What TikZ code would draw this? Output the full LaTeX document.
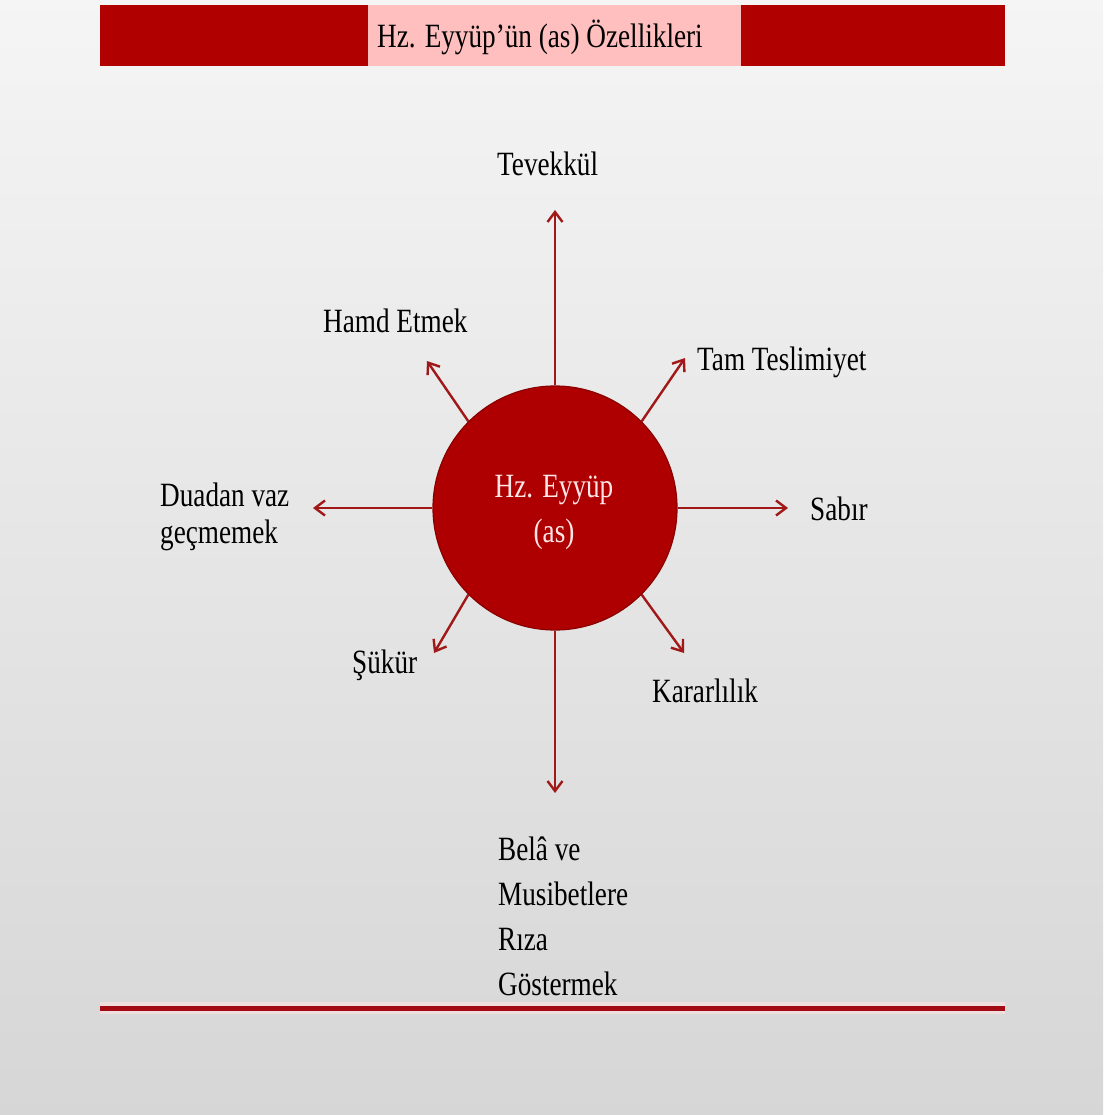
\documentclass[tikz,border=0pt]{standalone}
\usepackage{fontspec}
\setmainfont{Liberation Serif}[FakeStretch=0.8]
\usetikzlibrary{arrows.meta}
\definecolor{bandred}{HTML}{B00000}
\definecolor{bandpink}{HTML}{FFBFBF}
\definecolor{arrred}{HTML}{A11818}
\definecolor{circfill}{HTML}{AE0000}
\definecolor{circline}{HTML}{8A0000}
\definecolor{lnred}{HTML}{A30A14}
\definecolor{txtpink}{HTML}{FFE6E6}
\tikzset{
  lbl/.style={inner sep=0pt, anchor=base west, font=\fontsize{34}{45}\selectfont, text=black},
  arr/.style={draw=arrred, line width=2.4pt, -{Straight Barb[length=10pt,width=15pt,line width=2.4pt]}},
}
\begin{document}
\begin{tikzpicture}[x=1pt,y=-1pt]
\useasboundingbox (0,0) rectangle (1103,1115);
\shade[top color=black!4, bottom color=black!16] (0,0) rectangle (1103,1115);
% title band
\fill[bandred] (100,5) rectangle (1005,66);
\fill[bandpink] (368,5) rectangle (741,66);
\node[lbl, font=\fontsize{34}{42}\selectfont] (title) at (377,48) {Hz. Eyyüp’ün (as) Özellikleri};
% bottom rule
\draw[line width=12pt, bandpink!45, opacity=0.6] (100,1008) -- (1005,1008);
\draw[line width=5pt, lnred] (100,1008) -- (1005,1008);
% centre
\node[circle, minimum size=244pt, inner sep=0pt, fill=circfill, draw=circline, line width=1.2pt] (c) at (555,508) {};
\node[inner sep=0pt, align=center, text=txtpink, font=\fontsize{34}{45}\selectfont] (ct) at (554,512) {Hz. Eyyüp\\(as)};
% arrow ends
\coordinate (eN) at (555,210);
\coordinate (eS) at (555,793);
\coordinate (eE) at (788,508);
\coordinate (eW) at (313,508);
\coordinate (eNE) at (685,358);
\coordinate (eNW) at (427,361);
\coordinate (eSW) at (434,653);
\coordinate (eSE) at (684,653);
\draw[arr] (c.north) -- (eN);
\draw[arr] (c.south) -- (eS);
\draw[arr] (c.east) -- (eE);
\draw[arr] (c.west) -- (eW);
\draw[arr] (c.north east) -- (eNE);
\draw[arr] (c.north west) -- (eNW);
\draw[arr] (c.south west) -- (eSW);
\draw[arr] (c.south east) -- (eSE);
% labels
\node[lbl] (tev) at (497,176) {Tevekkül};
\node[lbl] (hamd) at (323,332) {Hamd Etmek};
\node[lbl] (tam) at (697,370) {Tam Teslimiyet};
\node[lbl, align=left, font=\fontsize{34}{37}\selectfont] (dua) at (160,543) {Duadan vaz\\geçmemek};
\node[lbl] (sabir) at (810,520) {Sabır};
\node[lbl] (sukur) at (352,673) {Şükür};
\node[lbl] (karar) at (652,702) {Kararlılık};
\node[lbl, align=left] (bela) at (498,995) {Belâ ve\\Musibetlere\\Rıza\\Göstermek};
\end{tikzpicture}
\end{document}
